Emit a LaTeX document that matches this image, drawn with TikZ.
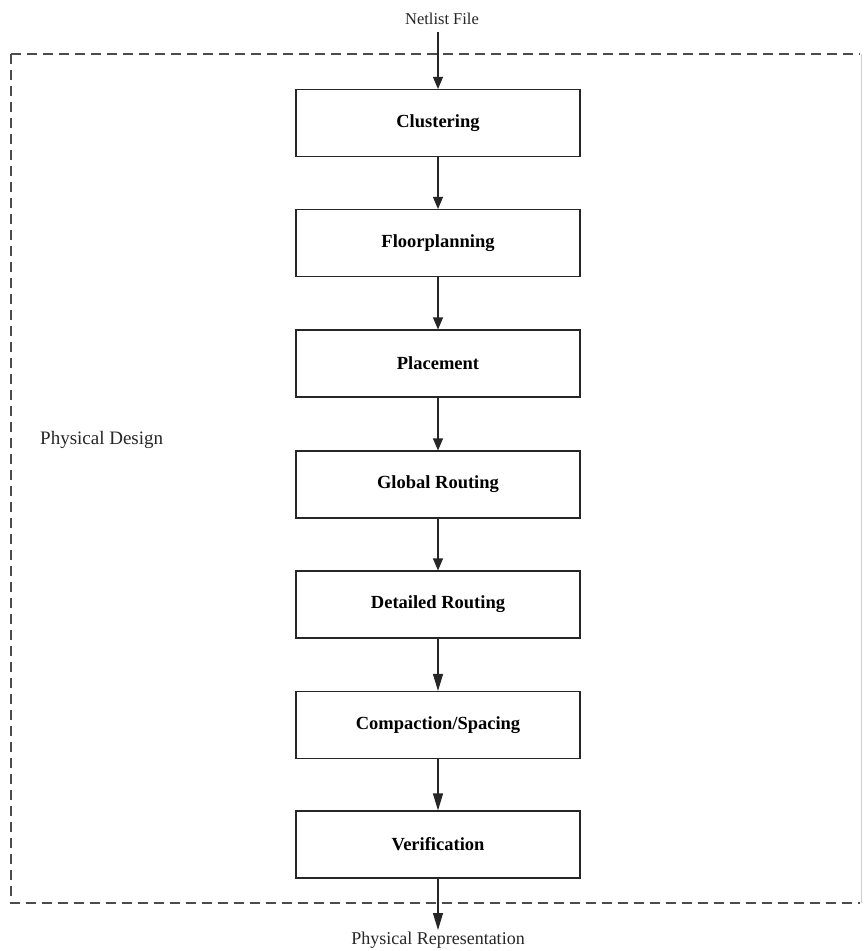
\documentclass[tikz,border=0pt]{standalone}
\usepackage{fontspec}
\setmainfont{Liberation Serif}
\usetikzlibrary{arrows.meta}
\begin{document}
\begin{tikzpicture}[x=1pt,y=-1pt,
  stage/.style={draw=black!85, line width=1.1pt, minimum width=284pt, minimum height=67pt,
    inner sep=0pt, font=\fontsize{18.5}{21}\selectfont\bfseries},
  flow/.style={draw=black!85, line width=1.1pt, -{Triangle[length=12pt,width=10pt]}},
  bigflow/.style={flow, -{Triangle[length=17pt,width=10pt]}},
  frame/.style={draw=black!70, line width=1.2pt, dash pattern=on 10pt off 6pt},
  label/.style={inner sep=0pt, text=black!85}]
  \useasboundingbox (0,0) rectangle (864,951);

  % outer dashed frame around the design stages
  \draw[frame] (11,54) -- (860,54);
  \draw[frame] (11,54) -- (11,903) -- (860,903);
  \draw[draw=black!20, line width=1pt] (861,54) -- (861,903);

  % stages
  \node[stage] (clu) at (438,123) {Clustering};
  \node[stage] (flo) at (438,243) {Floorplanning};
  \node[stage] (pla) at (438,363.5) {Placement};
  \node[stage] (glo) at (438,484.5) {Global Routing};
  \node[stage] (det) at (438,604.5) {Detailed Routing};
  \node[stage] (com) at (438,725) {Compaction/Spacing};
  \node[stage] (ver) at (438,844.5) {Verification};

  % input and output
  \node[label, font=\fontsize{16.5}{18}\selectfont] (net) at (442,19) {Netlist File};
  \node[label, font=\fontsize{18}{20}\selectfont] (out) at (438,940) {Physical Representation};
  \coordinate (outtip) at (438,930);
  \node[label, anchor=west, font=\fontsize{19}{22}\selectfont] (pd) at (40,440) {Physical Design};

  % connectors
  \draw[flow] (438,32) -- (clu.north);
  \draw[flow] (clu) -- (flo);
  \draw[flow] (flo) -- (pla);
  \draw[flow] (pla) -- (glo);
  \draw[flow] (glo) -- (det);
  \draw[bigflow] (det) -- (com);
  \draw[bigflow] (com) -- (ver);
  \draw[bigflow] (ver) -- (outtip);
\end{tikzpicture}
\end{document}
